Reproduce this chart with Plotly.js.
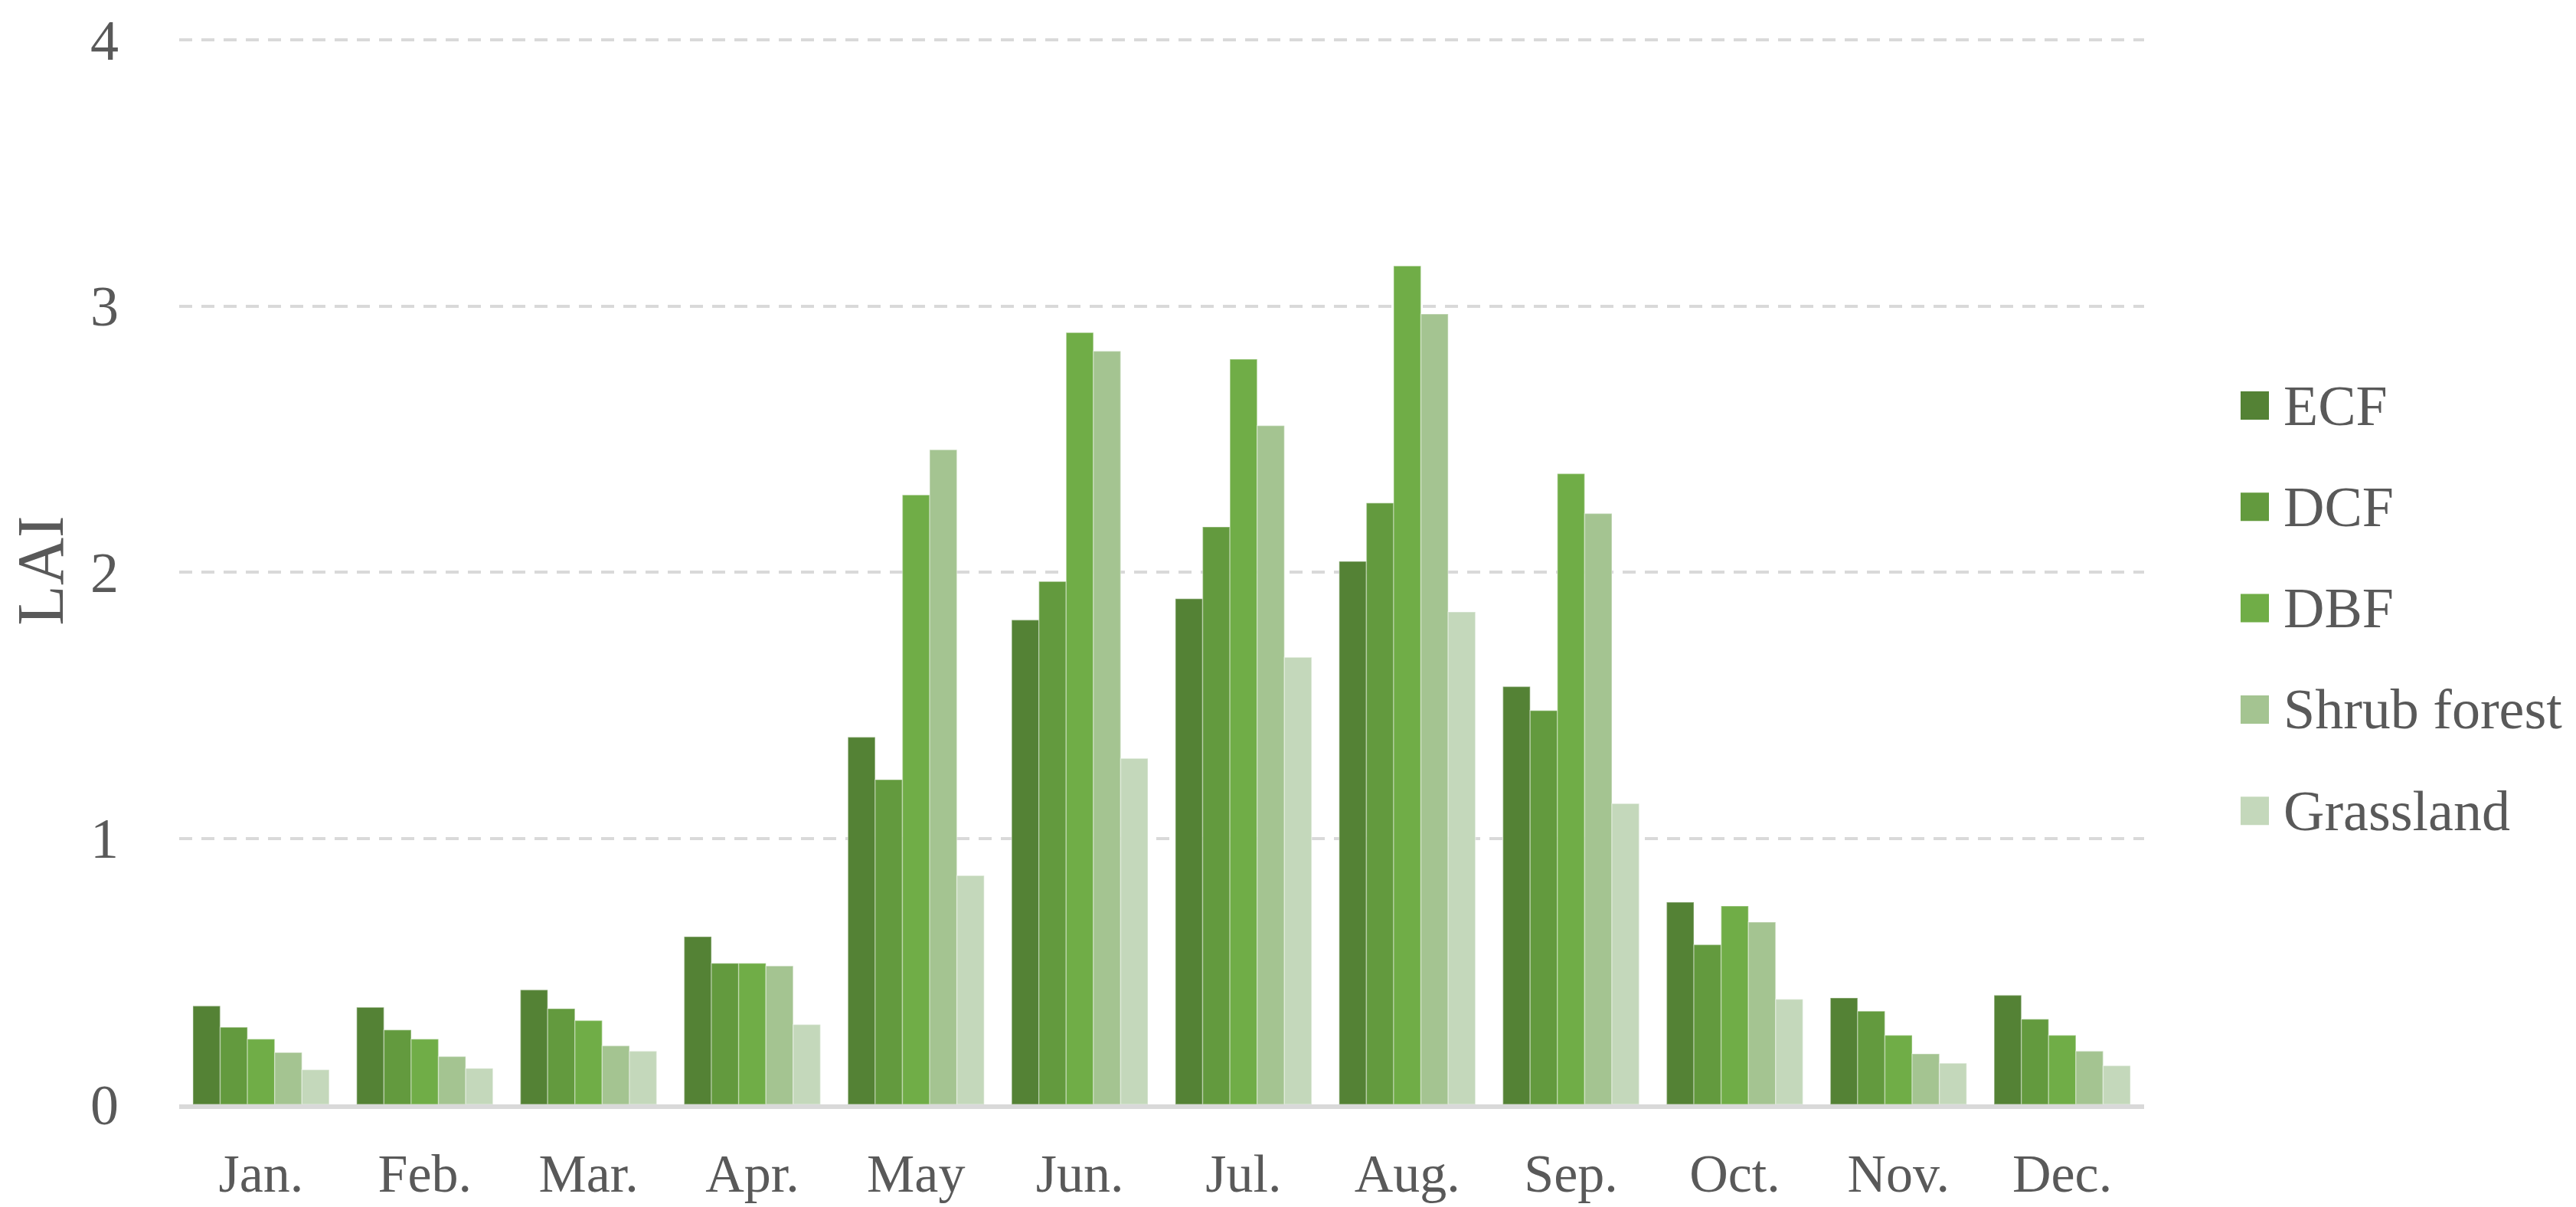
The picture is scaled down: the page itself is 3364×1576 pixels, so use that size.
<!DOCTYPE html>
<html>
<head>
<meta charset="utf-8">
<script src="https://cdn.plot.ly/plotly-3.0.1.min.js"></script>
<style>html,body{margin:0;padding:0;background:#fff;}#chart{width:3364px;height:1576px;}</style>
</head>
<body>
<div id="chart"></div>
<script>
const months = ["Jan.", "Feb.", "Mar.", "Apr.", "May", "Jun.", "Jul.", "Aug.", "Sep.", "Oct.", "Nov.", "Dec."];
const seriesNames = ["ECF", "DCF", "DBF", "Shrub forest", "Grassland"];
const ECF       = [0.37, 0.365, 0.43, 0.63, 1.38, 1.82, 1.90, 2.04, 1.57, 0.76, 0.40, 0.41];
const DCF       = [0.29, 0.28, 0.36, 0.53, 1.22, 1.965, 2.17, 2.26, 1.48, 0.60, 0.35, 0.32];
const DBF       = [0.245, 0.245, 0.315, 0.53, 2.29, 2.90, 2.80, 3.15, 2.37, 0.745, 0.26, 0.26];
const Shrub     = [0.195, 0.18, 0.22, 0.52, 2.46, 2.83, 2.55, 2.97, 2.22, 0.685, 0.19, 0.20];
const Grassland = [0.13, 0.135, 0.20, 0.30, 0.86, 1.30, 1.68, 1.85, 1.13, 0.395, 0.155, 0.145];
const yTickVals = [0, 1, 2, 3, 4];

const seriesValues = [ECF, DCF, DBF, Shrub, Grassland];
const colors = ["#548235", "#639A3E", "#70AD47", "#A4C491", "#C4D8BB"];
const textColor = "#595959";
const fontFamily = "'Liberation Serif', 'Times New Roman', serif";

const W = 3364, H = 1576;
const M = {l: 234, r: 564, t: 48, b: 134};
const plotW = W - M.l - M.r, plotH = H - M.t - M.b;
const px2x = px => (px - M.l) / plotW;
const px2y = py => (H - M.b - py) / plotH;

const traces = seriesNames.map((name, i) => ({
  type: "bar",
  name: name,
  x: months,
  y: seriesValues[i],
  marker: {color: colors[i], line: {color: "rgba(255,255,255,0.35)", width: 1.5}},
  showlegend: false,
  hoverinfo: "x+y+name"
}));

// custom legend (large swatches)
const shapes = [];
const annotations = [];
const legTop = 529.5, legStep = 132.3, sw = 37, swLeft = 2926, txtLeft = 2980;
seriesNames.forEach((name, i) => {
  const cy = legTop + i * legStep;
  shapes.push({
    type: "rect", xref: "paper", yref: "paper",
    x0: px2x(swLeft), x1: px2x(swLeft + sw),
    y0: px2y(cy + sw / 2), y1: px2y(cy - sw / 2),
    fillcolor: colors[i], line: {width: 0}
  });
  annotations.push({
    xref: "paper", yref: "paper", x: px2x(txtLeft), y: px2y(cy),
    xanchor: "left", yanchor: "middle", showarrow: false,
    text: name, font: {family: fontFamily, size: 74, color: textColor}
  });
});

const layout = {
  width: W, height: H,
  margin: M,
  paper_bgcolor: "#ffffff",
  plot_bgcolor: "#ffffff",
  barmode: "group",
  bargap: 0.168,
  bargroupgap: 0,
  font: {family: fontFamily, size: 74, color: textColor},
  xaxis: {
    type: "category",
    showgrid: false,
    showline: true, linecolor: "#d9d9d9", linewidth: 6,
    ticks: "",
    ticklabelstandoff: 24,
    tickfont: {family: fontFamily, size: 70, color: textColor},
    fixedrange: true
  },
  yaxis: {
    range: [0, 4.0115],
    tickvals: yTickVals,
    ticktext: yTickVals.map(String),
    showgrid: true, gridcolor: "#d9d9d9", gridwidth: 4, griddash: "17px,12px",
    zeroline: false,
    showline: false,
    ticks: "",
    ticklabelstandoff: 78,
    tickfont: {family: fontFamily, size: 74, color: textColor},
    title: {text: "LAI", font: {family: fontFamily, size: 86, color: textColor}, standoff: 6},
    fixedrange: true
  },
  shapes: shapes,
  annotations: annotations
};

Plotly.newPlot("chart", traces, layout, {displayModeBar: false, staticPlot: true});
</script>
</body>
</html>
